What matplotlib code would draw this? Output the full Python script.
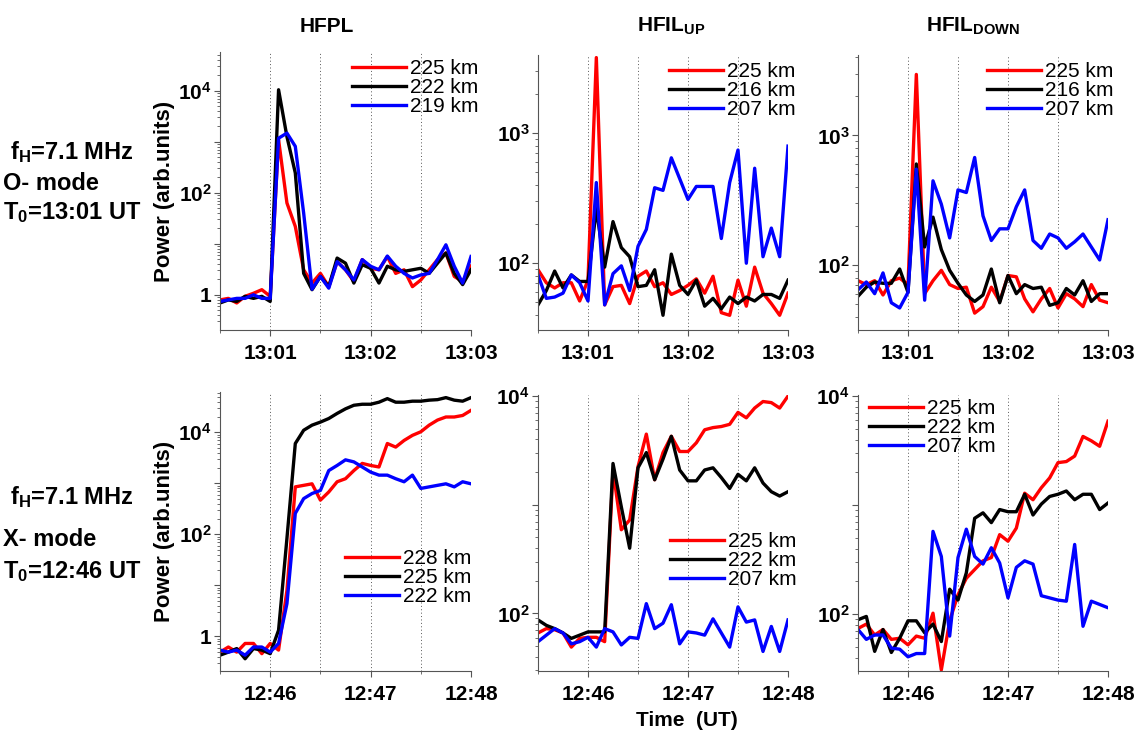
import matplotlib
matplotlib.use("Agg")
import matplotlib.pyplot as plt
from matplotlib.ticker import FixedLocator, LogLocator, FuncFormatter, NullFormatter
import numpy as np

plt.rcParams['font.family'] = ['Liberation Sans', 'DejaVu Sans']
plt.rcParams['font.weight'] = 'bold'
plt.rcParams['mathtext.fontset'] = 'custom'
plt.rcParams['mathtext.rm'] = 'Liberation Sans:bold'
plt.rcParams['mathtext.bf'] = 'Liberation Sans:bold'
plt.rcParams['mathtext.it'] = 'Liberation Sans:bold'

# sample times, minutes after the hour (5 s cadence)
t_top = 0.5 + np.arange(31) / 12.0     # 13:00:30 .. 13:03
t_bot = 45.5 + np.arange(31) / 12.0    # 12:45:30 .. 12:48

# ---- data: log10(power) ----
# O-mode, HFPL
o_pl_225 = [-0.10, -0.07, -0.16, -0.03, 0.03, 0.10, -0.03, 3.04, 1.80, 1.34, 0.49, 0.23, 0.42, 0.16, 0.65, 0.49,
            0.26, 0.69, 0.52, 0.49, 0.75, 0.42, 0.49, 0.16, 0.29, 0.49, 0.69, 0.82, 0.36, 0.26, 0.56]
o_pl_222 = [-0.16, -0.10, -0.13, -0.03, -0.07, -0.03, -0.13, 4.02, 3.10, 2.39, 0.42, 0.10, 0.36, 0.16, 0.72, 0.62,
            0.23, 0.59, 0.52, 0.23, 0.56, 0.49, 0.46, 0.49, 0.52, 0.42, 0.62, 0.82, 0.42, 0.20, 0.49]
o_pl_219 = [-0.13, -0.10, -0.07, -0.07, 0.00, -0.07, -0.07, 3.07, 3.17, 2.91, 1.60, 0.11, 0.36, 0.13, 0.65, 0.49,
            0.29, 0.69, 0.56, 0.49, 0.76, 0.56, 0.42, 0.33, 0.39, 0.42, 0.69, 0.98, 0.56, 0.23, 0.75]
# O-mode, HFIL up
o_up_225 = [1.95, 1.85, 1.81, 1.85, 1.85, 1.71, 1.87, 3.58, 1.68, 1.82, 1.83, 1.69, 1.90, 1.94, 1.82, 1.85,
            1.76, 1.79, 1.83, 1.88, 1.77, 1.90, 1.62, 1.60, 1.87, 1.67, 1.97, 1.77, 1.69, 1.60, 1.77]
o_up_216 = [1.68, 1.79, 1.94, 1.81, 1.91, 1.86, 1.86, 2.42, 1.97, 2.32, 2.12, 2.05, 1.82, 1.83, 1.95, 1.60,
            2.07, 1.83, 1.76, 1.87, 1.67, 1.73, 1.65, 1.74, 1.69, 1.74, 1.71, 1.76, 1.76, 1.73, 1.87]
o_up_207 = [1.91, 1.73, 1.74, 1.77, 1.91, 1.85, 1.71, 2.62, 1.68, 1.92, 1.98, 1.79, 2.13, 2.26, 2.58, 2.56,
            2.81, 2.65, 2.49, 2.59, 2.59, 2.59, 2.19, 2.62, 2.87, 2.00, 2.73, 2.05, 2.27, 2.05, 2.90]
# O-mode, HFIL down
o_dn_225 = [1.88, 1.85, 1.88, 1.77, 1.88, 1.90, 1.85, 3.47, 1.78, 1.88, 1.96, 1.85, 1.82, 1.83, 1.63, 1.68,
            1.83, 1.72, 1.92, 1.91, 1.74, 1.64, 1.74, 1.82, 1.67, 1.78, 1.74, 1.68, 1.85, 1.73, 1.71]
o_dn_216 = [1.76, 1.83, 1.87, 1.86, 1.86, 1.97, 1.79, 2.78, 2.14, 2.37, 2.12, 1.96, 1.86, 1.77, 1.72, 1.77,
            1.97, 1.71, 1.92, 1.78, 1.85, 1.82, 1.83, 1.69, 1.71, 1.82, 1.77, 1.88, 1.72, 1.78, 1.78]
o_dn_207 = [1.81, 1.87, 1.78, 1.94, 1.71, 1.67, 1.79, 2.74, 1.73, 2.65, 2.47, 2.21, 2.58, 2.56, 2.83, 2.38,
            2.19, 2.28, 2.28, 2.45, 2.58, 2.19, 2.13, 2.24, 2.21, 2.13, 2.18, 2.24, 2.14, 2.04, 2.35]
# X-mode, HFPL
x_pl_228 = [-0.31, -0.21, -0.31, -0.14, -0.14, -0.34, -0.14, -0.27, 0.90, 2.93, 2.96, 2.99, 2.67, 2.83, 3.03, 3.09,
            3.25, 3.39, 3.35, 3.32, 3.78, 3.71, 3.84, 3.94, 4.01, 4.14, 4.24, 4.30, 4.30, 4.33, 4.43]
x_pl_225 = [-0.37, -0.31, -0.24, -0.44, -0.24, -0.27, -0.34, 0.12, 1.92, 3.78, 4.04, 4.14, 4.20, 4.27, 4.37, 4.46,
            4.53, 4.55, 4.55, 4.59, 4.66, 4.59, 4.59, 4.61, 4.61, 4.63, 4.64, 4.68, 4.63, 4.61, 4.68]
x_pl_222 = [-0.27, -0.31, -0.27, -0.37, -0.21, -0.21, -0.31, -0.14, 0.64, 2.41, 2.70, 2.80, 2.86, 3.25, 3.35, 3.46,
            3.42, 3.32, 3.22, 3.16, 3.16, 3.09, 3.03, 3.16, 2.90, 2.93, 2.96, 2.99, 2.93, 3.03, 2.99]
# X-mode, HFIL up
x_up_225 = [1.82, 1.86, 1.85, 1.82, 1.69, 1.77, 1.78, 1.78, 1.74, 3.32, 2.77, 2.86, 3.35, 3.65, 3.23, 3.48,
            3.63, 3.49, 3.49, 3.57, 3.69, 3.71, 3.72, 3.74, 3.85, 3.80, 3.89, 3.95, 3.94, 3.89, 4.00]
x_up_222 = [1.94, 1.89, 1.86, 1.82, 1.77, 1.80, 1.83, 1.83, 1.83, 3.38, 2.98, 2.60, 3.34, 3.48, 3.23, 3.42,
            3.63, 3.32, 3.22, 3.22, 3.32, 3.34, 3.25, 3.15, 3.28, 3.22, 3.34, 3.20, 3.12, 3.08, 3.12]
x_up_207 = [1.74, 1.80, 1.86, 1.82, 1.72, 1.74, 1.78, 1.69, 1.86, 1.83, 1.71, 1.78, 1.77, 2.09, 1.86, 1.91,
            2.08, 1.72, 1.83, 1.82, 1.80, 1.95, 1.82, 1.69, 2.06, 1.92, 1.94, 1.65, 1.88, 1.65, 1.94]
# X-mode, HFIL down
x_dn_225 = [1.87, 1.91, 1.81, 1.86, 1.77, 1.78, 1.72, 1.80, 1.78, 2.01, 1.49, 1.94, 2.18, 2.33, 2.41, 2.49,
            2.52, 2.73, 2.67, 2.79, 3.11, 3.05, 3.16, 3.25, 3.39, 3.40, 3.45, 3.63, 3.59, 3.54, 3.77]
x_dn_222 = [1.95, 1.98, 1.66, 1.86, 1.65, 1.78, 1.94, 1.94, 1.83, 1.91, 1.75, 2.23, 2.13, 2.38, 2.88, 2.93,
            2.84, 2.96, 2.94, 2.94, 3.10, 2.91, 3.01, 3.08, 3.10, 3.13, 3.05, 3.10, 3.10, 2.96, 3.02]
x_dn_207 = [1.86, 1.77, 1.81, 1.81, 1.69, 1.68, 1.61, 1.64, 1.64, 2.76, 2.53, 1.80, 2.52, 2.78, 2.53, 2.46,
            2.61, 2.47, 2.15, 2.43, 2.49, 2.46, 2.17, 2.15, 2.13, 2.12, 2.64, 1.89, 2.12, 2.09, 2.06]

titles = ['HFPL', r'HFIL$_{\rm UP}$', r'HFIL$_{\rm DOWN}$']
colors = ['#ff0000', '#000000', '#0000ff']

W, H = 1142, 738
fig = plt.figure(figsize=(W / 100, H / 100), dpi=100)


def fx(x):
    return x / W


def fy(y):
    return 1 - y / H


panels = [
    # (x0, x1, y0, y1) px, t, series, labels, ylim(log), labelled exps, legend (x, y) px, hour
    ((220, 471, 52, 330), t_top, [o_pl_225, o_pl_222, o_pl_219], ['225 km', '222 km', '219 km'],
     (-0.69, 4.76), [0, 2, 4], (352, 59), 13),
    ((538, 788, 55, 330), t_top, [o_up_225, o_up_216, o_up_207], ['225 km', '216 km', '207 km'],
     (1.487, 3.60), [2, 3], (669, 62), 13),
    ((858, 1108, 55, 330), t_top, [o_dn_225, o_dn_216, o_dn_207], ['225 km', '216 km', '207 km'],
     (1.50, 3.62), [2, 3], (987, 62), 13),
    ((220, 471, 392, 671), t_bot, [x_pl_228, x_pl_225, x_pl_222], ['228 km', '225 km', '222 km'],
     (-0.68, 4.79), [0, 2, 4], (345, 549), 12),
    ((538, 788, 395, 671), t_bot, [x_up_225, x_up_222, x_up_207], ['225 km', '222 km', '207 km'],
     (1.47, 4.01), [2, 4], (670, 532), 12),
    ((858, 1108, 395, 671), t_bot, [x_dn_225, x_dn_222, x_dn_207], ['225 km', '222 km', '207 km'],
     (1.48, 4.01), [2, 4], (869, 399), 12),
]

for i, (box, t, series, labels, ylog, shown, leg_xy, hour) in enumerate(panels):
    x0, x1, y0, y1 = box
    ax = fig.add_axes([fx(x0), fy(y1), fx(x1 - x0), (y1 - y0) / H])
    for vals, lab, c in zip(series, labels, colors):
        ax.plot(t, 10 ** np.array(vals), color=c, lw=2.4, label=lab)
    ax.set_yscale('log')
    ax.set_ylim(10 ** ylog[0], 10 ** ylog[1])
    ax.set_xlim(t[0], t[-1])

    ax.yaxis.set_major_locator(LogLocator(base=10, numticks=20))
    ax.yaxis.set_minor_locator(LogLocator(base=10, subs=np.arange(2, 10), numticks=20))
    ax.yaxis.set_minor_formatter(NullFormatter())

    def yfmt(v, pos, shown=shown):
        e = int(round(np.log10(v)))
        if e not in shown:
            return ''
        return '1' if e == 0 else r'$10^{%d}$' % e
    ax.yaxis.set_major_formatter(FuncFormatter(yfmt))

    majors = np.arange(np.ceil(t[0]), t[-1] + 0.01, 1.0)
    ax.xaxis.set_major_locator(FixedLocator(majors))
    ax.xaxis.set_minor_locator(FixedLocator(np.arange(t[0], t[-1] + 0.01, 0.5)))
    ax.xaxis.set_major_formatter(FuncFormatter(lambda v, p, h=hour: '%d:%02d' % (h, int(round(v)))))
    ax.grid(axis='x', which='both', linestyle=(0, (1, 2.5)), color='#555555', lw=0.7)

    for s in ['top', 'right']:
        ax.spines[s].set_visible(False)
    ax.spines['left'].set_color('#555555')
    ax.spines['bottom'].set_color('#555555')
    ax.tick_params(axis='both', which='major', labelsize=15, length=4, color='#555555', pad=2)
    ax.tick_params(axis='both', which='minor', length=2, color='#555555')
    ax.tick_params(axis='x', which='major', pad=6)

    if i in (0, 3):
        ax.set_ylabel('Power (arb.units)', fontsize=16, fontweight='bold', labelpad=2)

    lx, ly = leg_xy
    ax.legend(loc='upper left', bbox_to_anchor=(fx(lx), fy(ly)), bbox_transform=fig.transFigure,
              frameon=False, borderpad=0, borderaxespad=0, handlelength=2.6, handletextpad=0.2,
              labelspacing=0.0, prop={'family': ['Liberation Sans Narrow', 'Liberation Sans'],
                                      'size': 15, 'weight': 'normal'})

# column titles
for xc, title in zip([327, 671, 973], titles):
    fig.text(fx(xc), fy(26), title, ha='center', va='center', fontsize=15, fontweight='bold')

# mode annotations
for y_top, dy1, dy2, mode, t0 in [(152, 32, 61, 'O- mode', r'T$_0$=13:01 UT'),
                                  (497, 42, 75, 'X- mode', r'T$_0$=12:46 UT')]:
    fig.text(fx(10), fy(y_top), r'f$_{\rm H}$=7.1 MHz', ha='left', va='center', fontsize=17)
    fig.text(fx(3), fy(y_top + dy1), mode, ha='left', va='center', fontsize=17)
    fig.text(fx(3), fy(y_top + dy2), t0, ha='left', va='center', fontsize=17)

fig.text(fx(687), fy(720), 'Time  (UT)', ha='center', va='center', fontsize=15, fontweight='bold')

fig.savefig('out.png', dpi=100)
